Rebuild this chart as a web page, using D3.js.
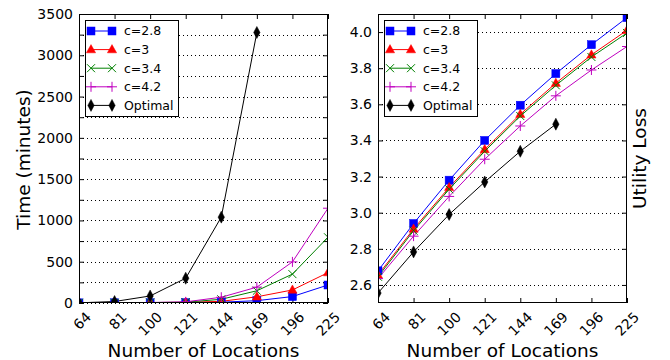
<!DOCTYPE html>
<html>
<head>
<meta charset="utf-8">
<script src="https://cdn.jsdelivr.net/npm/d3@7"></script>
<style>
  html, body { margin: 0; padding: 0; background: #fff; }
  svg { display: block; font-family: "DejaVu Sans", sans-serif; }
</style>
</head>
<body>
<div id="chart"></div>
<script>
// ---- data ---------------------------------------------------------------
const locations = ['64', '81', '100', '121', '144', '169', '196', '225'];
const seriesNames = ['c=2.8', 'c=3', 'c=3.4', 'c=4.2', 'Optimal'];

// time in minutes (left panel)
const timeC28 = [2, 3, 4, 5, 10, 28, 78, 218];
const timeC3 = [2, 3, 5, 8, 20, 75, 158, 368];
const timeC34 = [2, 3, 5, 10, 45, 148, 350, 796];
const timeC42 = [2, 3, 6, 14, 70, 192, 498, 1148];
const timeOpt = [2, 18, 85, 300, 1040, 3276];

// utility loss (right panel)
const lossC28 = [2.678, 2.94, 3.18, 3.40, 3.595, 3.77, 3.93, 4.08];
const lossC3 = [2.655, 2.91, 3.14, 3.35, 3.545, 3.717, 3.874, 4.01];
const lossC34 = [2.645, 2.90, 3.13, 3.34, 3.535, 3.705, 3.862, 3.995];
const lossC42 = [2.635, 2.87, 3.09, 3.296, 3.48, 3.647, 3.79, 3.92];
const lossOpt = [2.555, 2.783, 2.99, 3.17, 3.34, 3.49];

const timeTicks = [0, 500, 1000, 1500, 2000, 2500, 3000, 3500];
const lossTicks = [2.6, 2.8, 3.0, 3.2, 3.4, 3.6, 3.8, 4.0];

// ---- styles -------------------------------------------------------------
const colors = ['#0000ff', '#ff0000', '#008000', '#bf00bf', '#000000'];
const markers = ['square', 'triangle', 'x', 'plus', 'diamond'];

const W = 670, H = 360;
const svg = d3.select('#chart').append('svg').attr('width', W).attr('height', H);

function marker(sel, type, color) {
  if (type === 'square') {
    sel.append('rect').attr('x', -4).attr('y', -4).attr('width', 8).attr('height', 8)
      .attr('fill', color).attr('stroke', color).attr('stroke-width', 0.5);
  } else if (type === 'triangle') {
    sel.append('path').attr('d', 'M0,-5L4.6,3.2L-4.6,3.2Z').attr('fill', color)
      .attr('stroke', color).attr('stroke-width', 0.5);
  } else if (type === 'x') {
    sel.append('path').attr('d', 'M-4,-4L4,4M-4,4L4,-4').attr('stroke', color)
      .attr('stroke-width', 1).attr('fill', 'none');
  } else if (type === 'plus') {
    sel.append('path').attr('d', 'M-5,0L5,0M0,-5L0,5').attr('stroke', color)
      .attr('stroke-width', 1).attr('fill', 'none');
  } else {
    sel.append('path').attr('d', 'M0,-6L3.2,0L0,6L-3.2,0Z').attr('fill', color)
      .attr('stroke', color).attr('stroke-width', 0.5);
  }
}

function panel(opts) {
  const { left, right, top, bottom, yDomain, yTicks, gridTicks, tickFmt, series, id } = opts;
  const x = d3.scalePoint().domain(locations).range([left, right]);
  const y = d3.scaleLinear().domain(yDomain).range([bottom, top]);
  const g = svg.append('g');

  g.append('clipPath').attr('id', id).append('rect')
    .attr('x', left).attr('y', top).attr('width', right - left).attr('height', bottom - top);

  // dotted grid
  g.append('g').selectAll('line').data(gridTicks).join('line')
    .attr('x1', left).attr('x2', right)
    .attr('y1', d => Math.round(y(d)) + 0.5).attr('y2', d => Math.round(y(d)) + 0.5)
    .attr('stroke', '#000').attr('stroke-width', 1).attr('stroke-dasharray', '1,3');

  // inward ticks on all four sides
  g.append('g').attr('transform', `translate(0,${bottom})`)
    .call(d3.axisBottom(x).tickSize(-5).tickFormat(''))
    .call(s => s.select('.domain').remove());
  g.append('g').attr('transform', `translate(0,${top})`)
    .call(d3.axisTop(x).tickSize(-5).tickFormat(''))
    .call(s => s.select('.domain').remove());
  g.append('g').attr('transform', `translate(${left},0)`)
    .call(d3.axisLeft(y).tickValues(gridTicks).tickSize(-5).tickFormat(''))
    .call(s => s.select('.domain').remove());
  g.append('g').attr('transform', `translate(${right},0)`)
    .call(d3.axisRight(y).tickValues(gridTicks).tickSize(-5).tickFormat(''))
    .call(s => s.select('.domain').remove());

  // y tick labels
  g.append('g').attr('transform', `translate(${left},0)`)
    .call(d3.axisLeft(y).tickValues(yTicks).tickSize(0).tickPadding(6).tickFormat(tickFmt))
    .call(s => s.select('.domain').remove())
    .call(s => s.selectAll('text').attr('font-size', 14).attr('fill', '#000')
      .attr('font-family', '"DejaVu Sans", sans-serif'));

  // x tick labels, rotated
  g.append('g').selectAll('text').data(locations).join('text')
    .attr('transform', d => `translate(${x(d) + 6},${bottom + 8}) rotate(-45)`)
    .attr('text-anchor', 'end').attr('dy', '0.7em')
    .attr('font-size', 14).text(d => d);

  // series
  const plot = g.append('g').attr('clip-path', `url(#${id})`);
  const line = d3.line().x((d, i) => x(locations[i])).y(d => y(d));
  series.forEach((vals, k) => {
    plot.append('path').datum(vals).attr('d', line)
      .attr('fill', 'none').attr('stroke', colors[k]).attr('stroke-width', 1);
  });
  series.forEach((vals, k) => {
    vals.forEach((v, i) => {
      const m = plot.append('g').attr('transform', `translate(${x(locations[i])},${y(v)})`);
      marker(m, markers[k], colors[k]);
    });
  });

  // frame
  g.append('rect').attr('x', left + 0.5).attr('y', top + 0.5)
    .attr('width', right - left - 1).attr('height', bottom - top - 1)
    .attr('fill', 'none').attr('stroke', '#000').attr('stroke-width', 1);

  // legend
  const lg = g.append('g').attr('transform', `translate(${left + 6},${top + 6})`);
  lg.append('rect').attr('x', 0.5).attr('y', 0.5).attr('width', 93).attr('height', 96)
    .attr('fill', '#fff').attr('stroke', '#000').attr('stroke-width', 1);
  seriesNames.forEach((name, k) => {
    const yy = 11 + k * 18.6;
    lg.append('line').attr('x1', 6).attr('x2', 27).attr('y1', yy).attr('y2', yy)
      .attr('stroke', colors[k]).attr('stroke-width', 1);
    [6, 27].forEach(xx => marker(lg.append('g').attr('transform', `translate(${xx},${yy})`), markers[k], colors[k]));
    lg.append('text').attr('x', 39).attr('y', yy).attr('dy', '0.35em')
      .attr('font-size', 12.5).text(name);
  });

  // x label
  svg.append('text').attr('x', (left + right) / 2).attr('y', 357)
    .attr('text-anchor', 'middle').attr('font-size', 18.5).text('Number of Locations');

  return { x, y };
}

panel({
  id: 'clipL', left: 79, right: 328, top: 14, bottom: 303,
  yDomain: [0, 3500], yTicks: timeTicks, gridTicks: d3.range(0, 3501, 250),
  tickFmt: d3.format('d'),
  series: [timeC28, timeC3, timeC34, timeC42, timeOpt]
});

panel({
  id: 'clipR', left: 378, right: 627, top: 14, bottom: 303,
  yDomain: [2.5, 4.1], yTicks: lossTicks, gridTicks: lossTicks,
  tickFmt: d3.format('.1f'),
  series: [lossC28, lossC3, lossC34, lossC42, lossOpt]
});

// y axis titles
svg.append('text').attr('transform', 'translate(24,159.5) rotate(-90)')
  .attr('text-anchor', 'middle').attr('dy', '0.35em').attr('font-size', 18.5).text('Time (minutes)');
svg.append('text').attr('transform', 'translate(640,158.5) rotate(-90)')
  .attr('text-anchor', 'middle').attr('dy', '0.35em').attr('font-size', 18.5).text('Utility Loss');
</script>
</body>
</html>
